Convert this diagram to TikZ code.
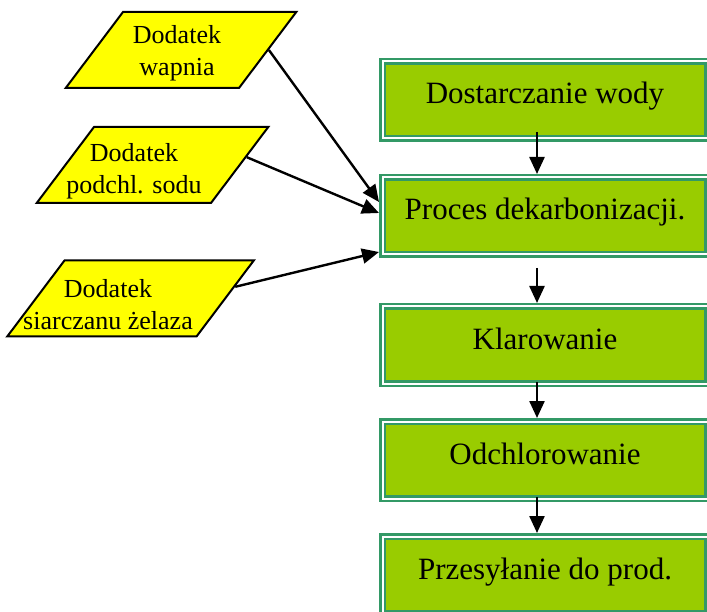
\documentclass[tikz,border=0pt]{standalone}
\usepackage{fontspec}
\setmainfont{Liberation Serif}
\usetikzlibrary{positioning, arrows.meta, calc, shapes.geometric}

\definecolor{boxgreen}{HTML}{99CC00}
\definecolor{seagreen}{HTML}{339966}
\definecolor{addyellow}{HTML}{FFFF00}

\begin{document}
\begin{tikzpicture}[x=1pt, y=-1pt,
    stepbox/.style={rectangle, fill=boxgreen, draw=seagreen, double=white, double distance=2pt, line width=2.5pt, minimum width=325pt, minimum height=77pt, outer sep=3.5pt, font=\fontsize{31}{36}\selectfont, text height=20pt, text depth=12pt},
    addbox/.style={trapezium, trapezium left angle=53, trapezium right angle=127, fill=addyellow, draw=black, line width=2pt, inner ysep=38pt},
    addtext/.style={align=center, font=\fontsize{26}{32}\selectfont},
    arr/.style={line width=2.4pt, -{Triangle[length=17pt, width=15pt]}}
]
\useasboundingbox (0,0) rectangle (707,612);
\clip (0,0) rectangle (707,612);

\node[stepbox](b1) at (545,100) {Dostarczanie wody};
\node[stepbox](b2) at (545,216) {Proces dekarbonizacji.};
\node[stepbox](b3) at (545,345) {Klarowanie};
\node[stepbox](b4) at (545,460) {Odchlorowanie};
\node[stepbox](b5) at (545,575) {Przesyłanie do prod.};

\node[addbox, inner xsep=58pt](p1) at (181,50) {};
\node[addbox, inner xsep=58.5pt](p2) at (152.5,165) {};
\node[addbox, inner xsep=66pt](p3) at (130.5,298.5) {};

\node[addtext](t1) at (177,53) {Dodatek\\wapnia};
\node[addtext](t2) at (134,171.5) {Dodatek\\podchl. sodu};
\node[addtext](t3) at (108,305) {Dodatek\\siarczanu żelaza};

\draw[arr] ([xshift=-8pt, yshift=10pt]b1.south) -- ([xshift=-8pt]b2.north);
\draw[arr] ([xshift=-8pt, yshift=-10pt]b2.south) -- ([xshift=-8pt]b3.north);
\draw[arr] ([xshift=-8pt, yshift=5pt]b3.south) -- ([xshift=-8pt]b4.north);
\draw[arr] ([xshift=-8pt, yshift=5pt]b4.south) -- ([xshift=-8pt]b5.north);

\draw[arr] (p1.right side) -- ([yshift=14pt]b2.west);
\draw[arr] ($(p2.top right corner)!0.4!(p2.bottom right corner)$) -- ([yshift=3pt]b2.west);
\draw[arr] ($(p3.top right corner)!0.35!(p3.bottom right corner)$) -- ([yshift=-36pt]b2.west);
\end{tikzpicture}
\end{document}
